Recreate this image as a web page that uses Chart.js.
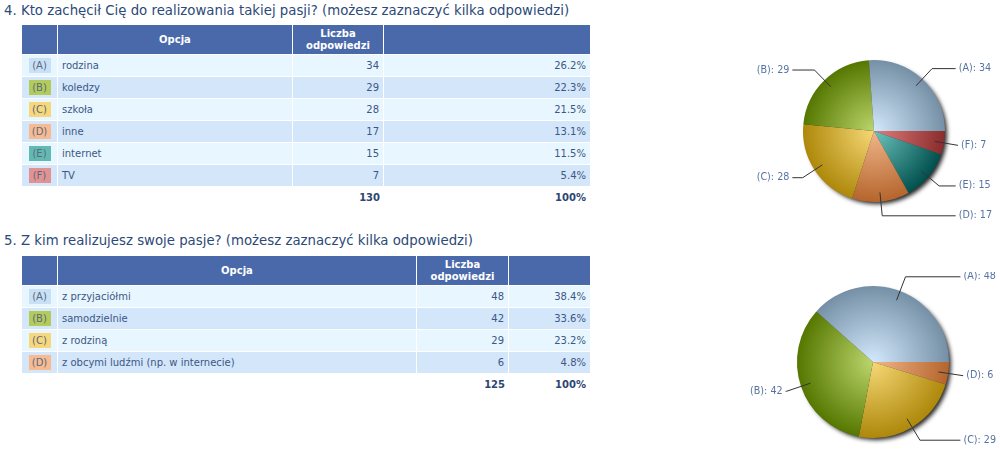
<!DOCTYPE html>
<html>
<head>
<meta charset="utf-8">
<script src="https://cdn.jsdelivr.net/npm/chart.js"></script>
<style>
  body { margin: 0; background: #fff; font-family: "DejaVu Sans", Verdana, sans-serif; width: 1000px; height: 456px; overflow: hidden; position: relative; }
  .title { position: absolute; left: 4px; font-size: 13.3px; color: #2c4a78; white-space: nowrap; }
  table.res { position: absolute; left: 22px; border-collapse: separate; border-spacing: 0; table-layout: fixed; font-size: 10px; color: #3d5785; }
  table.res th { background: #4a69aa; color: #fff; font-weight: bold; height: 29px; border-right: 1px solid #fff; border-bottom: 1px solid #fff; line-height: 12px; padding: 0; }
  table.res td { height: 21px; border-right: 1px solid #fff; border-bottom: 1px solid #fff; padding: 0 4px; white-space: nowrap; }
  table.res tr.odd td { background: #e8f6ff; }
  table.res tr.even td { background: #d3e6fa; }
  table.res th:last-child, table.res td:last-child { border-right: none; }
  table.res td.num { text-align: right; }
  table.res td.let { text-align: center; padding: 0; }
  table.res tr.tot td { background: none; font-weight: bold; color: #2d4672; border: none; }
  .badge { display: inline-block; width: 22px; height: 15px; line-height: 15px; text-align: center; color: #5a6a80; }
  canvas { position: absolute; }
</style>
</head>
<body>
<div class="title" style="top:3px">4. Kto zachęcił Cię do realizowania takiej pasji? (możesz zaznaczyć kilka odpowiedzi)</div>
<table class="res" id="t4" style="top:25px"></table>
<div class="title" style="top:233px">5. Z kim realizujesz swoje pasje? (możesz zaznaczyć kilka odpowiedzi)</div>
<table class="res" id="t5" style="top:256px"></table>

<div style="position:absolute;left:724px;top:36px;width:300px;height:190px"><canvas id="pie4"></canvas></div>
<div style="position:absolute;left:723px;top:272px;width:300px;height:180px"><canvas id="pie5"></canvas></div>

<script>
// data
const q4Letters = ["A", "B", "C", "D", "E", "F"];
const q4Options = ["rodzina", "koledzy", "szkoła", "inne", "internet", "TV"];
const q4Counts = [34, 29, 28, 17, 15, 7];

const q5Letters = ["A", "B", "C", "D"];
const q5Options = ["z przyjaciółmi", "samodzielnie", "z rodziną", "z obcymi ludźmi (np. w internecie)"];
const q5Counts = [48, 42, 29, 6];

// badge colour, slice edge colour, slice centre colour per letter
const badgeColors = ["#c9e1f5", "#b3cb5a", "#f6d77c", "#f8ba90", "#62b9b1", "#e39292"];
const edgeColors = ["#7590a6", "#557700", "#ad880a", "#b5652c", "#00504d", "#8a2c2c"];
const centerColors = ["#d3e8fc", "#bcd66c", "#f7d877", "#f1b68c", "#6dc4be", "#e27c7c"];

function buildTable(id, letters, options, counts, widths) {
    const total = counts.reduce((a, b) => a + b, 0);
    let html = "<colgroup>" + widths.map(w => `<col style="width:${w}px">`).join("") + "</colgroup>";
    html += "<tr><th></th><th>Opcja</th><th>Liczba<br>odpowiedzi</th><th></th></tr>";
    letters.forEach((l, i) => {
        const pct = (counts[i] / total * 100).toFixed(1) + "%";
        html += `<tr class="${i % 2 ? "even" : "odd"}">
            <td class="let"><span class="badge" style="background:${badgeColors[i]}">(${l})</span></td>
            <td>${options[i]}</td>
            <td class="num">${counts[i]}</td>
            <td class="num">${pct}</td></tr>`;
    });
    html += `<tr class="tot"><td></td><td></td><td class="num">${total}</td><td class="num">100%</td></tr>`;
    document.getElementById(id).innerHTML = html;
}

buildTable("t4", q4Letters, q4Options, q4Counts, [36, 235, 91, 206]);
buildTable("t5", q5Letters, q5Options, q5Counts, [36, 359, 92, 81]);

// shadow under the pie
const pieShadow = {
    id: "pieShadow",
    beforeDatasetsDraw(chart) {
        const arc = chart.getDatasetMeta(0).data[0];
        if (!arc) return;
        const ctx = chart.ctx;
        ctx.save();
        ctx.shadowColor = "rgba(0,0,0,0.85)";
        ctx.shadowBlur = 4;
        ctx.shadowOffsetX = 3;
        ctx.shadowOffsetY = 3;
        ctx.fillStyle = "#333";
        ctx.beginPath();
        ctx.arc(arc.x, arc.y, arc.outerRadius - 1, 0, Math.PI * 2);
        ctx.fill();
        ctx.restore();
    }
};

// outside labels with leader lines
const pieLabels = {
    id: "pieLabels",
    afterDatasetsDraw(chart) {
        const ctx = chart.ctx;
        const ds = chart.data.datasets[0];
        ctx.save();
        ctx.font = "9.6px 'DejaVu Sans'";
        ctx.textBaseline = "middle";
        chart.getDatasetMeta(0).data.forEach((arc, i) => {
            const r = arc.outerRadius;
            const mid = (arc.startAngle + arc.endAngle) / 2;
            const c = Math.cos(mid), s = Math.sin(mid);
            const side = c >= 0 ? 1 : -1;
            const x0 = arc.x + c * r * 0.87, y0 = arc.y + s * r * 0.87;
            const x1 = arc.x + c * r * 1.2, y1 = arc.y + s * r * 1.2;
            const x2 = arc.x + side * Math.max(Math.abs(x1 - arc.x), r * 1.15);
            ctx.strokeStyle = "#333";
            ctx.lineWidth = 1;
            ctx.beginPath();
            ctx.moveTo(x0, y0);
            ctx.lineTo(x1, y1);
            ctx.lineTo(x2, y1);
            ctx.stroke();
            ctx.fillStyle = "#5673a3";
            ctx.textAlign = side > 0 ? "left" : "right";
            ctx.fillText(`(${ds.letters[i]}): ${ds.data[i]}`, x2 + side * 3, y1);
        });
        ctx.restore();
    }
};

function renderPie(id, letters, counts, radius) {
    // reversed so that slices run counter-clockwise from 3 o'clock
    const idx = counts.map((_, i) => i).reverse();
    new Chart(document.getElementById(id), {
        type: "pie",
        data: {
            labels: idx.map(i => letters[i]),
            datasets: [{
                data: idx.map(i => counts[i]),
                letters: idx.map(i => letters[i]),
                borderWidth: 0,
                radius: radius,
                backgroundColor: (context) => {
                    const chart = context.chart;
                    const area = chart.chartArea;
                    const k = idx[context.dataIndex];
                    if (!area) return edgeColors[k];
                    const cx = (area.left + area.right) / 2, cy = (area.top + area.bottom) / 2;
                    const g = chart.ctx.createRadialGradient(cx, cy, 0, cx, cy, radius);
                    g.addColorStop(0, centerColors[k]);
                    g.addColorStop(1, edgeColors[k]);
                    return g;
                }
            }]
        },
        options: {
            responsive: true,
            maintainAspectRatio: false,
            animation: false,
            rotation: 90,
            plugins: { legend: { display: false }, tooltip: { enabled: false } }
        },
        plugins: [pieShadow, pieLabels]
    });
}

renderPie("pie4", q4Letters, q4Counts, 71);
renderPie("pie5", q5Letters, q5Counts, 76);
</script>
</body>
</html>
